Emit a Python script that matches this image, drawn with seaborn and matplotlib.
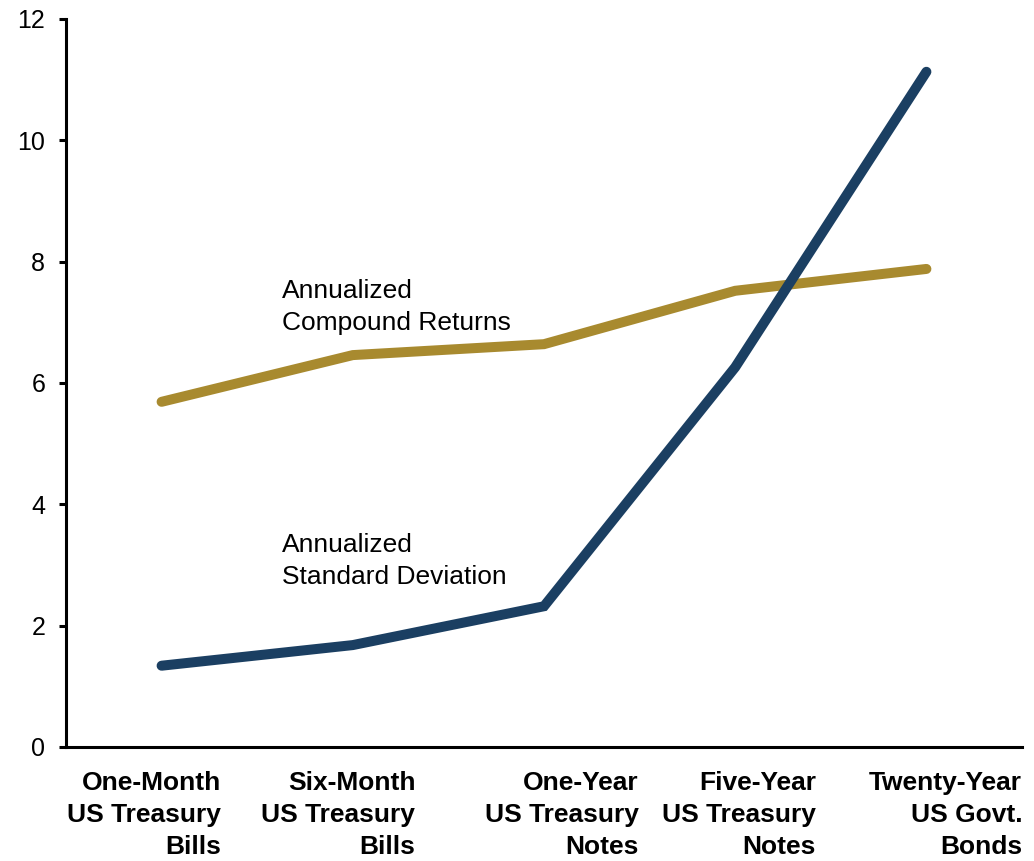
import matplotlib
matplotlib.use("Agg")
import matplotlib.pyplot as plt
import numpy as np
import pandas as pd
import seaborn as sns

# Treasury maturities along the x axis
categories = [
    "One-Month\nUS Treasury\nBills",
    "Six-Month\nUS Treasury\nBills",
    "One-Year\nUS Treasury\nNotes",
    "Five-Year\nUS Treasury\nNotes",
    "Twenty-Year\nUS Govt.\nBonds",
]
# Annualized figures, in percent
compound_returns = [5.69, 6.46, 6.64, 7.52, 7.88]
standard_deviation = [1.34, 1.68, 2.32, 6.26, 11.13]
y_ticks = [0, 2, 4, 6, 8, 10, 12]

series_names = ["Annualized\nCompound Returns", "Annualized\nStandard Deviation"]
colors = {series_names[0]: "#A88A2F", series_names[1]: "#1B3F62"}

df = pd.DataFrame({
    "pos": list(range(len(categories))) * 2,
    "value": compound_returns + standard_deviation,
    "series": [series_names[0]] * len(categories) + [series_names[1]] * len(categories),
})

sns.set_style("ticks")
plt.rcParams["font.family"] = ["Liberation Sans", "DejaVu Sans"]

fig = plt.figure(figsize=(10.34, 8.61), dpi=100)
ax = fig.add_axes([66 / 1034, 1 - 747 / 861, (1022 - 66) / 1034, (747 - 19) / 861])

sns.lineplot(data=df, x="pos", y="value", hue="series", palette=colors,
             linewidth=7.2, legend=False, ax=ax,
             solid_capstyle="round", solid_joinstyle="miter")

ax.set_xlim(-0.5, len(categories) - 0.5)
ax.set_ylim(0, 12)
ax.set_yticks(y_ticks)
ax.set_yticklabels([str(t) for t in y_ticks], fontsize=18)
ax.set_xticks(range(len(categories)))
ax.set_xticklabels([])
ax.set_xlabel("")
ax.set_ylabel("")

# right-justified category labels under each maturity, each with its own shift
label_shift_pt = [43, 45, 68, 58, 69]
for i, (name, dx) in enumerate(zip(categories, label_shift_pt)):
    ax.annotate(name, xy=(i, 0), xycoords=("data", "axes fraction"),
                xytext=(dx, -17), textcoords="offset points",
                ha="right", va="top", fontsize=19, fontweight="bold",
                linespacing=1.42, color="black", annotation_clip=False)

ax.tick_params(axis="x", length=0)
ax.tick_params(axis="y", length=5, width=2.2, pad=10, colors="black")
for side in ["top", "right"]:
    ax.spines[side].set_visible(False)
for side in ["left", "bottom"]:
    ax.spines[side].set_linewidth(2.2)
    ax.spines[side].set_color("black")

# series annotations
ax.text(0.63, 7.72, series_names[0], fontsize=19, va="top", ha="left",
        linespacing=1.42, color="black")
ax.text(0.63, 3.52, series_names[1], fontsize=19, va="top", ha="left",
        linespacing=1.42, color="black")

fig.savefig("out.png", dpi=100)
